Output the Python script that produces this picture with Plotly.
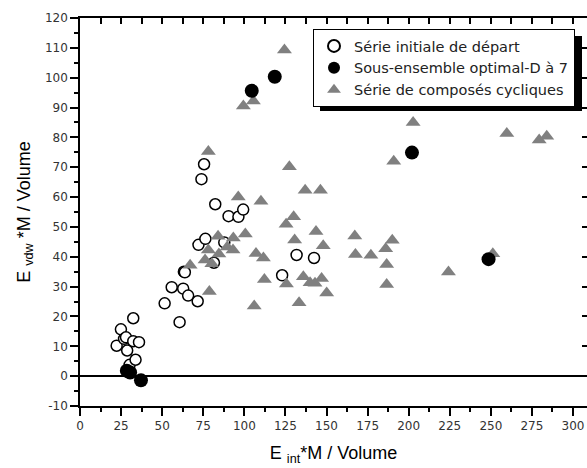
import plotly.graph_objects as go

# Série initiale de départ (open circles)
init_x = [22.3, 24.9, 26.8, 28.0, 28.7, 30.2, 32.4, 32.4, 33.8, 35.9,
          51.5, 55.8, 60.6, 62.8, 63.2, 63.8, 65.8, 71.6, 72.1, 73.9,
          75.5, 76.3, 81.5, 87.8, 90.4, 96.4, 99.3, 82.3, 123.0, 131.8, 142.4]
init_y = [10.2, 15.7, 12.5, 13.0, 8.6, 3.8, 19.4, 11.7, 5.5, 11.4,
          24.4, 29.8, 18.1, 29.3, 35.0, 34.8, 27.0, 25.1, 44.0, 66.0,
          71.0, 46.0, 38.0, 44.8, 53.6, 53.4, 55.8, 57.6, 33.8, 40.6, 39.6]

# Sous-ensemble optimal-D à 7 (filled circles)
opt_x = [28.5, 30.5, 37.1, 104.5, 118.5, 202.0, 248.6]
opt_y = [1.8, 1.2, -1.4, 95.6, 100.3, 74.9, 39.2]

# Série de composés cycliques (grey triangles)
cyc_x = [124.4, 99.4, 105.5, 78.1, 127.4, 96.3, 110.1, 137.0, 146.3, 202.7,
         190.9, 259.7, 279.4, 284.0, 130.0, 125.4, 143.6, 167.2, 190.0, 186.0,
         130.6, 148.0, 167.6, 177.0, 186.6, 186.6, 224.2, 251.2, 135.9, 140.0,
         143.0, 147.0, 150.1, 133.3, 125.6, 112.2, 111.6, 107.1, 106.0, 100.6,
         93.3, 84.0, 78.1, 89.6, 93.1, 84.5, 76.1, 80.2, 67.0, 78.7]
cyc_y = [109.3, 90.5, 92.2, 75.3, 70.2, 60.0, 58.6, 62.3, 62.3, 85.0,
         72.0, 81.3, 79.1, 80.4, 53.4, 50.9, 48.5, 47.0, 45.5, 42.7,
         45.6, 43.7, 40.8, 40.5, 37.4, 30.7, 34.9, 41.0, 33.3, 31.3,
         31.1, 32.7, 27.9, 24.6, 30.9, 32.4, 39.6, 41.1, 23.5, 47.6,
         46.3, 46.9, 42.3, 43.3, 42.3, 40.9, 38.9, 37.7, 37.2, 28.4]

x_ticks = [0, 25, 50, 75, 100, 125, 150, 175, 200, 225, 250, 275, 300]
y_ticks = [-10, 0, 10, 20, 30, 40, 50, 60, 70, 80, 90, 100, 110, 120]

W, H = 587, 468
ML, MR, MT, MB = 80, 0, 18, 62
XR = [0, 308.5]
YR = [-10, 120]
pw = W - ML - MR
ph = H - MT - MB

def px2paper_x(p):
    return (p - ML) / pw

def px2paper_y(p):
    return (H - MB - p) / ph

FONT = "Liberation Sans, Arial, sans-serif"
TICKFONT = "DejaVu Sans, sans-serif"

fig = go.Figure()
fig.add_trace(go.Scatter(
    x=init_x, y=init_y, mode="markers", name="Série initiale de départ",
    marker=dict(symbol="circle", size=11, color="white",
                line=dict(color="black", width=1.5)),
    legendrank=1))
fig.add_trace(go.Scatter(
    x=cyc_x, y=cyc_y, mode="markers", name="Série de composés cycliques",
    marker=dict(symbol="triangle-up", size=13, color="#808080",
                line=dict(width=0)),
    legendrank=3))
fig.add_trace(go.Scatter(
    x=opt_x, y=opt_y, mode="markers", name="Sous-ensemble optimal-D à 7",
    marker=dict(symbol="circle", size=14, color="black",
                line=dict(width=0)),
    legendrank=2))
# dummy trace for mirrored axes (top / right)
fig.add_trace(go.Scatter(x=[None], y=[None], xaxis="x2", yaxis="y2",
                         showlegend=False, hoverinfo="skip"))

axis_font = dict(family=TICKFONT, size=12, color="#333333")

fig.update_layout(
    width=W, height=H,
    margin=dict(l=ML, r=MR, t=MT, b=MB, pad=0),
    paper_bgcolor="white", plot_bgcolor="white",
    font=dict(family=FONT, color="black"),
    showlegend=True,
    legend=dict(
        x=px2paper_x(313), y=px2paper_y(29), xanchor="left", yanchor="top",
        bgcolor="white", bordercolor="black", borderwidth=1,
        font=dict(family=TICKFONT, size=14.5, color="#222222"),
        itemsizing="constant", tracegroupgap=0,
    ),
    xaxis=dict(
        range=XR, tickvals=x_ticks, ticktext=[str(v) for v in x_ticks],
        showgrid=False, zeroline=False,
        showline=True, linecolor="black", linewidth=1.5,
        ticks="outside", ticklen=8, tickwidth=1.5, tickcolor="black",
        minor=dict(dtick=12.5, tick0=0, ticks="outside", ticklen=4,
                   tickwidth=1.5, tickcolor="black", showgrid=False),
        tickfont=axis_font,
        title=dict(text="E <sub>int</sub>*M / Volume",
                   font=dict(family=FONT, size=18, color="black"),
                   standoff=14),
    ),
    yaxis=dict(
        range=YR, tickvals=y_ticks, ticktext=[str(v) for v in y_ticks],
        showgrid=False, zeroline=True, zerolinecolor="black",
        zerolinewidth=2,
        showline=True, linecolor="black", linewidth=1.5,
        ticks="outside", ticklen=8, tickwidth=1.5, tickcolor="black",
        minor=dict(dtick=5, tick0=0, ticks="outside", ticklen=4,
                   tickwidth=1.5, tickcolor="black", showgrid=False),
        tickfont=axis_font,
        title=dict(text="E <sub>vdw</sub> *M / Volume",
                   font=dict(family=FONT, size=18, color="black"),
                   standoff=10),
    ),
    xaxis2=dict(
        range=XR, overlaying="x", side="top", anchor="y2",
        showgrid=False, zeroline=False, showticklabels=False,
        showline=True, linecolor="black", linewidth=1.5,
        tick0=0, dtick=12.5, ticks="inside", ticklen=6, tickwidth=1.5,
        tickcolor="black",
    ),
    yaxis2=dict(
        range=YR, overlaying="y", side="right", anchor="x2",
        showgrid=False, zeroline=False, showticklabels=False,
        showline=False,
        tick0=0, dtick=10, ticks="inside", ticklen=5, tickwidth=1.5,
        tickcolor="black",
    ),
    shapes=[dict(
        type="rect", xref="paper", yref="paper",
        x0=px2paper_x(320), x1=px2paper_x(582),
        y0=px2paper_y(111), y1=px2paper_y(36),
        fillcolor="black", line=dict(width=0), layer="above",
    )],
)

fig.write_html("out.html")
